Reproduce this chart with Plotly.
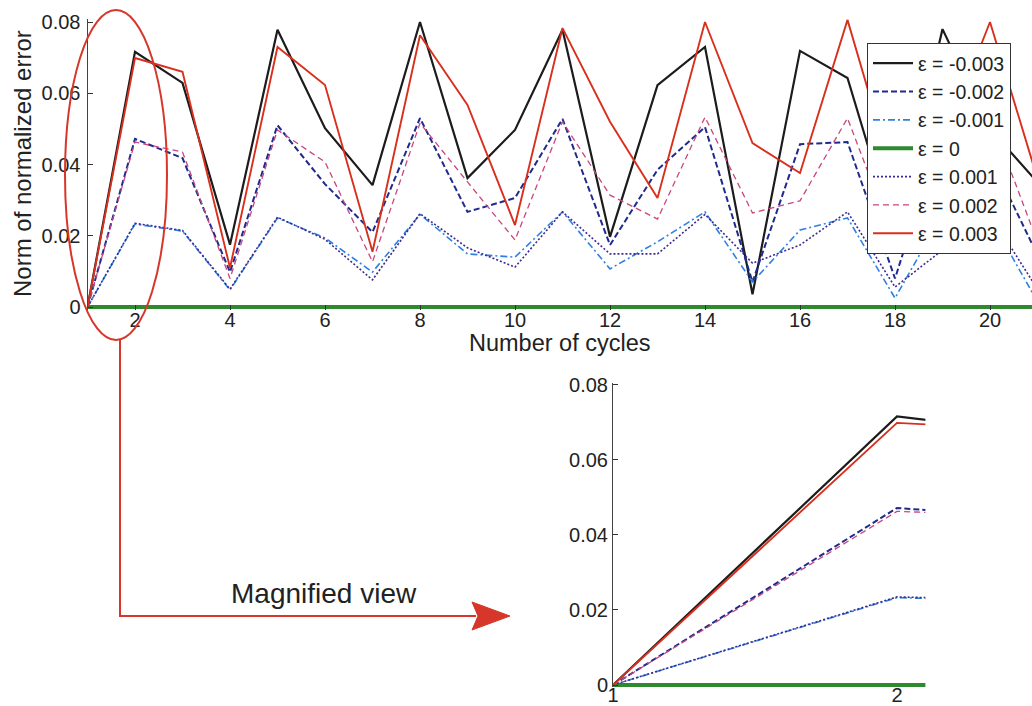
import plotly.graph_objects as go

W, H = 1032, 706

cycles = list(range(1, 22))
eps_labels = ["ε = -0.003", "ε = -0.002", "ε = -0.001", "ε = 0", "ε = 0.001", "ε = 0.002", "ε = 0.003"]

err_m003 = [0, 0.0716, 0.0629, 0.0175, 0.0778, 0.0502, 0.0342, 0.0800, 0.0362, 0.0497, 0.0778,
            0.0197, 0.0623, 0.0730, 0.0036, 0.0719, 0.0643, 0.0200, 0.0780, 0.0500, 0.0350]
err_m002 = [0, 0.0472, 0.0418, 0.0098, 0.0510, 0.0345, 0.0210, 0.0530, 0.0267, 0.0306, 0.0528,
            0.0174, 0.0385, 0.0505, 0.0070, 0.0457, 0.0463, 0.0080, 0.0500, 0.0420, 0.0146]
err_m001 = [0, 0.0233, 0.0213, 0.0048, 0.0250, 0.0194, 0.0098, 0.0260, 0.0149, 0.0140, 0.0267,
            0.0107, 0.0183, 0.0267, 0.0070, 0.0216, 0.0250, 0.0025, 0.0260, 0.0250, 0.0015]
err_0 = [0] * 21
err_p001 = [0, 0.0235, 0.0215, 0.0050, 0.0252, 0.0190, 0.0076, 0.0262, 0.0166, 0.0112, 0.0267,
            0.0149, 0.0149, 0.0260, 0.0123, 0.0174, 0.0267, 0.0056, 0.0160, 0.0260, 0.0050]
err_p002 = [0, 0.0463, 0.0435, 0.0080, 0.0497, 0.0407, 0.0127, 0.0516, 0.0351, 0.0188, 0.0520,
            0.0314, 0.0247, 0.0533, 0.0264, 0.0298, 0.0530, 0.0180, 0.0350, 0.0536, 0.0182]
err_p003 = [0, 0.0699, 0.0660, 0.0110, 0.0730, 0.0623, 0.0155, 0.0763, 0.0567, 0.0230, 0.0783,
            0.0520, 0.0306, 0.0800, 0.0460, 0.0376, 0.0806, 0.0350, 0.0460, 0.0800, 0.0360]

series = [err_m003, err_m002, err_m001, err_0, err_p001, err_p002, err_p003]
colors = ["#1c1c1c", "#1f2a8c", "#2f80e0", "#2f8a2f", "#3a2a92", "#c9457d", "#d9301e"]
dashes = ["solid", "6px,3px", "7px,3px,2px,3px", "solid", "2px,2px", "6px,4px", "solid"]
widths = [2.2, 2, 1.6, 4, 1.6, 1.3, 1.9]

y_ticks = [0, 0.02, 0.04, 0.06, 0.08]
y_ticktext = ["0", "0.02", "0.04", "0.06", "0.08"]
x_ticks_main = [2, 4, 6, 8, 10, 12, 14, 16, 18, 20]
x_ticks_inset = [1, 2]

FONT = "Arial, Liberation Sans, Helvetica, sans-serif"
TXT = "#222222"

def px(x):
    return x / W

def py(y):
    return 1 - y / H

fig = go.Figure()
for i, s in enumerate(series):
    fig.add_trace(go.Scatter(x=cycles, y=s, mode="lines", name=eps_labels[i],
                             line=dict(color=colors[i], dash=dashes[i], width=widths[i]),
                             xaxis="x", yaxis="y"))
for i, s in enumerate(series):
    fig.add_trace(go.Scatter(x=cycles, y=s, mode="lines", name=eps_labels[i], showlegend=False,
                             line=dict(color=colors[i], dash=dashes[i], width=widths[i]),
                             xaxis="x2", yaxis="y2"))

axis_common = dict(showgrid=False, zeroline=False, ticklen=5, tickcolor="#333", automargin=False,
                   tickfont=dict(family=FONT, size=20, color=TXT))

fig.update_layout(
    width=W, height=H, margin=dict(l=0, r=0, t=0, b=0, pad=0, autoexpand=False),
    paper_bgcolor="white", plot_bgcolor="rgba(0,0,0,0)",
    font=dict(family=FONT, color=TXT),
    xaxis=dict(domain=[px(87.5), 1.0], range=[1, 1 + (W - 87.5) / 47.5], tickvals=x_ticks_main,
               showline=False, anchor="y", ticks="inside", ticklabelstandoff=-4, **axis_common),
    yaxis=dict(domain=[py(309.85), py(19.15)], range=[-0.0008, 0.0808], tickvals=y_ticks,
               ticktext=y_ticktext, showline=True, linecolor="#444", linewidth=1,
               ticks="inside", ticklabelstandoff=2, anchor="x", **axis_common),
    xaxis2=dict(domain=[px(613), px(925.4)], range=[1, 2.1], tickvals=x_ticks_inset,
                showline=False, anchor="y2", ticks="", ticklabelstandoff=-6, **axis_common),
    yaxis2=dict(domain=[py(687.25), py(383.1)], range=[-0.0006, 0.0805], tickvals=y_ticks,
                ticktext=y_ticktext, showline=True, linecolor="#444", linewidth=1,
                ticks="inside", ticklabelstandoff=0, anchor="x2", **axis_common),
    legend=dict(x=px(867), y=py(43), xanchor="left", yanchor="top", bgcolor="white",
                bordercolor="#333", borderwidth=1, font=dict(family=FONT, size=19.5, color=TXT),
                itemwidth=40, tracegroupgap=0),
    showlegend=True,
)

fig.add_annotation(text="Norm of normalized error", xref="paper", yref="paper", x=px(22), y=py(164),
                   xanchor="center", yanchor="middle",
                   textangle=-90, showarrow=False, font=dict(family=FONT, size=24, color=TXT))
fig.add_annotation(text="Number of cycles", xref="paper", yref="paper", x=px(560), y=py(343),
                   xanchor="center", yanchor="middle",
                   showarrow=False, font=dict(family=FONT, size=23.5, color=TXT))
fig.add_annotation(text="Magnified view", xref="paper", yref="paper", x=px(324), y=py(593),
                   xanchor="center", yanchor="middle",
                   showarrow=False, font=dict(family=FONT, size=28, color=TXT))

RED = "#d6372a"
fig.add_shape(type="circle", xref="paper", yref="paper", x0=px(65), x1=px(167), y0=py(340), y1=py(10),
              line=dict(color=RED, width=2), layer="above")
fig.add_shape(type="path", xref="paper", yref="paper",
              path=f"M {px(120)},{py(340)} L {px(120)},{py(616)} L {px(476)},{py(616)}",
              line=dict(color=RED, width=2), layer="above")
fig.add_shape(type="path", xref="paper", yref="paper",
              path=f"M {px(472)},{py(602)} L {px(510)},{py(616)} L {px(472)},{py(630)} L {px(478)},{py(616)} Z",
              line=dict(color=RED, width=1), fillcolor=RED, layer="above")

fig.write_html("out.html")
